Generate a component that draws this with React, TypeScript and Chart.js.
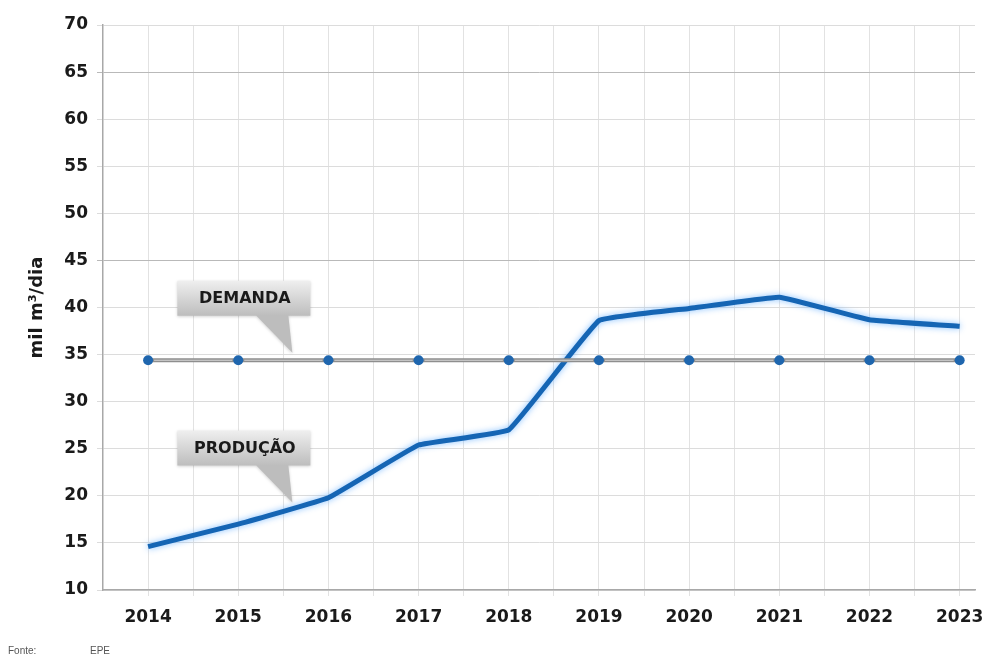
import React, { useEffect, useRef } from "react";
import { Chart, registerables } from "chart.js";

Chart.register(...registerables);

const years = [2014, 2015, 2016, 2017, 2018, 2019, 2020, 2021, 2022, 2023];
const producao = [14.6, 17.0, 19.8, 25.4, 27.0, 38.6, 39.9, 41.1, 38.7, 38.0];
const demanda = [34.4, 34.4, 34.4, 34.4, 34.4, 34.4, 34.4, 34.4, 34.4, 34.4];
const yTicks = [10, 15, 20, 25, 30, 35, 40, 45, 50, 55, 60, 65, 70];
const callouts = [
  { text: "DEMANDA", x: 2015.6, y: 35.2 },
  { text: "PRODUÇÃO", x: 2015.6, y: 19.3 },
];

const FONT = "'DejaVu Sans', Verdana, sans-serif";

const glowPlugin = {
  id: "glow",
  beforeDatasetDraw(chart: any, args: any) {
    const ctx = chart.ctx;
    ctx.save();
    if (args.index === 1) {
      ctx.shadowColor = "rgba(110,180,255,0.85)";
      ctx.shadowBlur = 6;
    }
  },
  afterDatasetDraw(chart: any, args: any) {
    const ctx = chart.ctx;
    ctx.restore();
    if (args.index === 0) {
      const pts = args.meta.data;
      ctx.save();
      ctx.strokeStyle = "#d6d6d6";
      ctx.lineWidth = 1.2;
      for (let i = 0; i < pts.length - 1; i++) {
        ctx.beginPath();
        ctx.moveTo(pts[i].x + 6, pts[i].y);
        ctx.lineTo(pts[i + 1].x - 6, pts[i + 1].y);
        ctx.stroke();
      }
      ctx.restore();
    }
  },
};

const calloutPlugin = {
  id: "callouts",
  afterDatasetsDraw(chart: any) {
    const ctx = chart.ctx;
    const xs = chart.scales.x;
    const ys = chart.scales.y;
    callouts.forEach((c) => {
      const tx = xs.getPixelForValue(c.x);
      const ty = ys.getPixelForValue(c.y);
      const left = tx - 115;
      const right = tx + 18;
      const top = ty - 72;
      const bottom = ty - 37;
      ctx.save();
      const g = ctx.createLinearGradient(0, top, 0, bottom);
      g.addColorStop(0, "#efefef");
      g.addColorStop(1, "#bdbdbd");
      ctx.shadowColor = "rgba(0,0,0,0.18)";
      ctx.shadowBlur = 3;
      ctx.shadowOffsetY = 1;
      ctx.fillStyle = g;
      ctx.beginPath();
      ctx.moveTo(left, top);
      ctx.lineTo(right, top);
      ctx.lineTo(right, bottom);
      ctx.lineTo(tx - 4, bottom);
      ctx.lineTo(tx, ty);
      ctx.lineTo(tx - 36, bottom);
      ctx.lineTo(left, bottom);
      ctx.closePath();
      ctx.fill();
      ctx.shadowColor = "transparent";
      ctx.fillStyle = "#1a1a1a";
      ctx.font = `bold 16px ${FONT}`;
      ctx.textAlign = "center";
      ctx.textBaseline = "middle";
      ctx.fillText(c.text, (left + right) / 2 + 1, (top + bottom) / 2 + 1);
      ctx.restore();
    });
  },
};

export default function App() {
  const ref = useRef<HTMLCanvasElement>(null);
  useEffect(() => {
    document.body.style.margin = "0";
    const chart = new Chart(ref.current!, {
      type: "line",
      data: {
        datasets: [
          {
            label: "DEMANDA",
            data: years.map((x, i) => ({ x, y: demanda[i] })),
            borderColor: "#8e8e8e",
            borderWidth: 4,
            pointRadius: 5,
            pointBackgroundColor: "#1f66ae",
            pointBorderColor: "#1f66ae",
            pointBorderWidth: 0,
            tension: 0,
          },
          {
            label: "PRODUÇÃO",
            data: years.map((x, i) => ({ x, y: producao[i] })),
            borderColor: "#1565b4",
            borderWidth: 5,
            pointRadius: 0,
            tension: 0.08,
            borderJoinStyle: "round",
            borderCapStyle: "butt",
          },
        ],
      },
      options: {
        animation: false,
        responsive: false,
        layout: { padding: { top: 25, right: 28, left: 0, bottom: 0 } },
        plugins: { legend: { display: false }, tooltip: { enabled: false } },
        scales: {
          x: {
            type: "linear",
            min: 2013.5,
            max: 2023.17,
            afterBuildTicks(scale: any) {
              const t: any[] = [];
              for (let v = 2014; v <= 2023; v += 0.5) t.push({ value: v });
              scale.ticks = t;
            },
            afterFit(scale: any) {
              scale.height = 72;
            },
            grid: {
              color: "#e2e2e2",
              lineWidth: 1,
              tickLength: 6,
              drawTicks: true,
            },
            border: { color: "#a8a8a8", width: 1.5 },
            ticks: {
              autoSkip: false,
              maxRotation: 0,
              padding: 11,
              color: "#1a1a1a",
              font: { family: FONT, size: 17, weight: "bold" },
              callback: (v: any) => (Number.isInteger(v) ? String(v) : ""),
            },
          },
          y: {
            min: 10,
            max: 70,
            afterBuildTicks(scale: any) {
              scale.ticks = yTicks.map((v) => ({ value: v }));
            },
            afterFit(scale: any) {
              scale.width = 103;
            },
            grid: {
              color: (c: any) =>
                c.tick && (c.tick.value === 45 || c.tick.value === 65) ? "#b9b9b9" : "#dcdcdc",
              lineWidth: 1,
              tickLength: 6,
            },
            border: { color: "#a8a8a8", width: 1.5 },
            ticks: {
              padding: 9,
              color: "#1a1a1a",
              font: { family: FONT, size: 17, weight: "bold" },
            },
            title: {
              display: true,
              text: "mil m³/dia",
              color: "#1a1a1a",
              font: { family: FONT, size: 18, weight: "bold" },
              padding: { top: 27, bottom: 0 },
            },
          },
        },
      },
      plugins: [glowPlugin, calloutPlugin],
    } as any);
    return () => chart.destroy();
  }, []);
  return (
    <div style={{ position: "relative", width: 1003, height: 662, background: "#fff" }}>
      <canvas ref={ref} width={1003} height={662} />
      <div
        style={{
          position: "absolute",
          left: 8,
          top: 645,
          fontFamily: "'Liberation Sans', Arial, sans-serif",
          fontSize: 10,
          color: "#555",
        }}
      >
        <span>Fonte:</span>
        <span style={{ position: "absolute", left: 82 }}>EPE</span>
      </div>
    </div>
  );
}
